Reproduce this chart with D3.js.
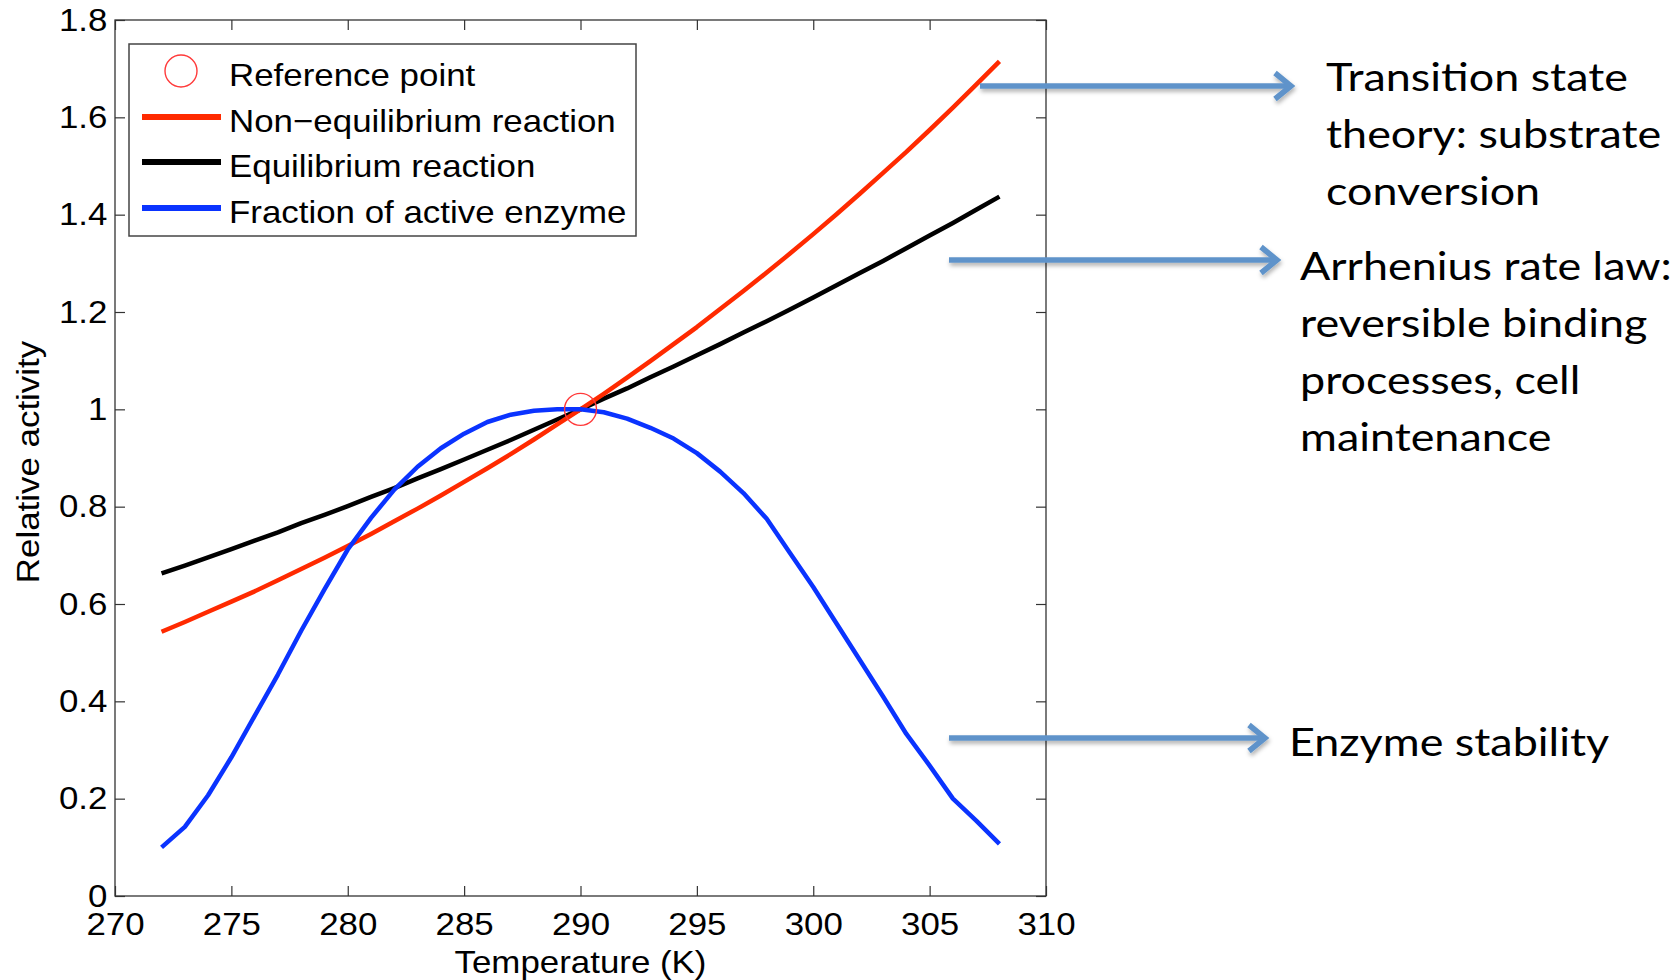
<!DOCTYPE html>
<html>
<head>
<meta charset="utf-8">
<script src="https://cdn.jsdelivr.net/npm/d3@7"></script>
<style>
  html, body { margin: 0; padding: 0; background: #fff; }
  svg { display: block; }
</style>
</head>
<body>
<svg id="chart" width="1680" height="980"></svg>
<script>
// ---------------- DATA ----------------
const temperatures = [272,273,274,275,276,277,278,279,280,281,282,283,284,285,286,287,288,289,290,
                      291,292,293,294,295,296,297,298,299,300,301,302,303,304,305,306,307,308];
const nonEquilibrium = [0.543,0.563,0.584,0.605,0.626,0.649,0.672,0.695,0.719,0.744,0.770,0.796,0.823,0.851,0.879,0.908,0.938,0.969,1.000,
                        1.032,1.065,1.099,1.134,1.169,1.206,1.243,1.281,1.320,1.360,1.401,1.443,1.486,1.529,1.574,1.620,1.667,1.715];
const equilibrium = [0.663,0.679,0.696,0.713,0.730,0.747,0.766,0.783,0.801,0.820,0.838,0.858,0.877,0.897,0.917,0.937,0.958,0.979,1.000,
                     1.022,1.043,1.066,1.088,1.111,1.134,1.158,1.181,1.205,1.230,1.255,1.280,1.305,1.331,1.357,1.383,1.410,1.437];
const activeFraction = [0.100,0.142,0.207,0.285,0.370,0.455,0.545,0.630,0.712,0.777,0.835,0.882,0.920,0.950,0.974,0.989,0.997,1.000,1.000,
                        0.994,0.981,0.962,0.940,0.910,0.872,0.828,0.775,0.705,0.635,0.560,0.485,0.410,0.333,0.268,0.200,0.155,0.107];
const referencePoint = [290, 1.0];
const xTicks = [270,275,280,285,290,295,300,305,310];
const yTicks = [0,0.2,0.4,0.6,0.8,1.0,1.2,1.4,1.6,1.8];
const legendLabels = ["Reference point","Non\u2212equilibrium reaction","Equilibrium reaction","Fraction of active enzyme"];
const xTitle = "Temperature (K)";
const yTitle = "Relative activity";
const annotationTexts = [
  ["Transition state","theory: substrate","conversion"],
  ["Arrhenius rate law:","reversible binding","processes, cell","maintenance"],
  ["Enzyme stability"]
];

// ---------------- LAYOUT ----------------
const svg = d3.select("#chart");
const plot = {left:115, right:1046, top:20, bottom:896};
const SX = 1.09;               // horizontal stretch of MATLAB-style text
const FONT = "'Liberation Sans', Arial, Helvetica, sans-serif";
const FS = 32;
const colors = {red:"#ff2a00", black:"#000000", blue:"#0a33ff", ref:"#ff3a3a", arrow:"#5f93ca", axis:"#333333"};

const x = d3.scaleLinear().domain([270,310]).range([plot.left, plot.right]);
const y = d3.scaleLinear().domain([0,1.8]).range([plot.bottom, plot.top]);

const defs = svg.append("defs");
const f = defs.append("filter").attr("id","shadow").attr("x","-10%").attr("y","-100%").attr("width","120%").attr("height","300%");
f.append("feDropShadow").attr("dx",1).attr("dy",3).attr("stdDeviation",2).attr("flood-color","#000").attr("flood-opacity",0.3);

// axes
const fmt = d => String(+d.toFixed(1));
function styleAxis(g){
  g.select(".domain").remove();
  g.selectAll(".tick line").attr("stroke", colors.axis).attr("stroke-width",1.2);
  g.selectAll("text").attr("font-family",FONT).attr("font-size",FS).attr("fill","#000");
}
const gx = svg.append("g").attr("transform",`translate(0,${plot.bottom})`)
  .call(d3.axisBottom(x).tickValues(xTicks).tickFormat(d3.format("d")).tickSizeInner(-10).tickSizeOuter(0).tickPadding(16));
styleAxis(gx);
gx.selectAll("text").attr("transform",`scale(${SX},1)`);

const gy = svg.append("g").attr("transform",`translate(${plot.left},0)`)
  .call(d3.axisLeft(y).tickValues(yTicks).tickFormat(fmt).tickSizeInner(-10).tickSizeOuter(0).tickPadding(7));
styleAxis(gy);
gy.selectAll("text").attr("transform",`scale(${SX},1)`);

const gt = svg.append("g").attr("transform",`translate(0,${plot.top})`)
  .call(d3.axisTop(x).tickValues(xTicks).tickFormat("").tickSizeInner(-10).tickSizeOuter(0));
styleAxis(gt);
const gr = svg.append("g").attr("transform",`translate(${plot.right},0)`)
  .call(d3.axisRight(y).tickValues(yTicks).tickFormat("").tickSizeInner(-10).tickSizeOuter(0));
styleAxis(gr);

svg.append("rect").attr("x",plot.left).attr("y",plot.top)
  .attr("width",plot.right-plot.left).attr("height",plot.bottom-plot.top)
  .attr("fill","none").attr("stroke",colors.axis).attr("stroke-width",1.3);

// axis titles
svg.append("g").attr("transform",`translate(${(plot.left+plot.right)/2},973) scale(${SX},1)`)
  .append("text").attr("text-anchor","middle").attr("font-family",FONT).attr("font-size",FS).text(xTitle);
svg.append("g").attr("transform",`translate(39,462) rotate(-90) scale(${SX},1)`)
  .append("text").attr("text-anchor","middle").attr("font-family",FONT).attr("font-size",FS).text(yTitle);

// lines
const line = vals => d3.line().x((d,i)=>x(temperatures[i])).y(d=>y(d))(vals);
const series = [
  {vals:equilibrium, color:colors.black},
  {vals:nonEquilibrium, color:colors.red},
  {vals:activeFraction, color:colors.blue}
];
svg.append("g").selectAll("path").data(series).join("path")
  .attr("d", d=>line(d.vals)).attr("fill","none").attr("stroke",d=>d.color)
  .attr("stroke-width",4.5).attr("stroke-linejoin","round").attr("stroke-linecap","butt");

svg.append("circle").attr("cx",x(referencePoint[0])).attr("cy",y(referencePoint[1])).attr("r",16)
  .attr("fill","none").attr("stroke",colors.ref).attr("stroke-width",1.4);

// legend
const lg = svg.append("g");
lg.append("rect").attr("x",129).attr("y",44).attr("width",507).attr("height",192)
  .attr("fill","#fff").attr("stroke","#444").attr("stroke-width",1.5);
const rowsMarkerY = [71,117,162,208];
const rowsTextY = [86,131.5,177,222.5];
const legendStyles = [null, colors.red, colors.black, colors.blue];
legendLabels.forEach((lab,i)=>{
  if(i===0){
    lg.append("circle").attr("cx",181).attr("cy",rowsMarkerY[i]).attr("r",16)
      .attr("fill","none").attr("stroke",colors.ref).attr("stroke-width",1.4);
  } else {
    lg.append("line").attr("x1",142).attr("x2",221).attr("y1",rowsMarkerY[i]).attr("y2",rowsMarkerY[i])
      .attr("stroke",legendStyles[i]).attr("stroke-width",6);
  }
  lg.append("g").attr("transform",`translate(229,${rowsTextY[i]}) scale(${SX},1)`)
    .append("text").attr("font-family",FONT).attr("font-size",FS).attr("fill","#000").text(lab);
});

// annotations (arrows + text)
const arrowLayout = [
  {x1:980, x2:1291, y:86},
  {x1:949, x2:1277, y:260},
  {x1:949, x2:1265, y:738}
];
const textLayout = [
  {x:1326, y:91, dy:57, width:302},
  {x:1300, y:280, dy:57},
  {x:1289, y:756, dy:57}
];
const ag = svg.append("g").attr("filter","url(#shadow)");
arrowLayout.forEach(a=>{
  ag.append("line").attr("x1",a.x1).attr("x2",a.x2-3).attr("y1",a.y).attr("y2",a.y)
    .attr("stroke",colors.arrow).attr("stroke-width",5.5);
  ag.append("path").attr("d",`M${a.x2-16},${a.y-13} L${a.x2},${a.y} L${a.x2-16},${a.y+13}`)
    .attr("fill","none").attr("stroke",colors.arrow).attr("stroke-width",5.5).attr("stroke-linejoin","miter");
});
const AFONT = "Lato, 'Open Sans', sans-serif";
const AFS = 39;
// measure to derive horizontal scale
const probe = svg.append("text").attr("font-family",AFONT).attr("font-size",AFS).text(annotationTexts[0][0]);
const asx = textLayout[0].width / probe.node().getComputedTextLength();
probe.remove();
annotationTexts.forEach((lines,k)=>{
  const L = textLayout[k];
  lines.forEach((t,j)=>{
    svg.append("g").attr("transform",`translate(${L.x},${L.y + j*L.dy}) scale(${asx},1)`)
      .append("text").attr("font-family",AFONT).attr("font-size",AFS).attr("fill","#000").text(t);
  });
});
</script>
</body>
</html>
